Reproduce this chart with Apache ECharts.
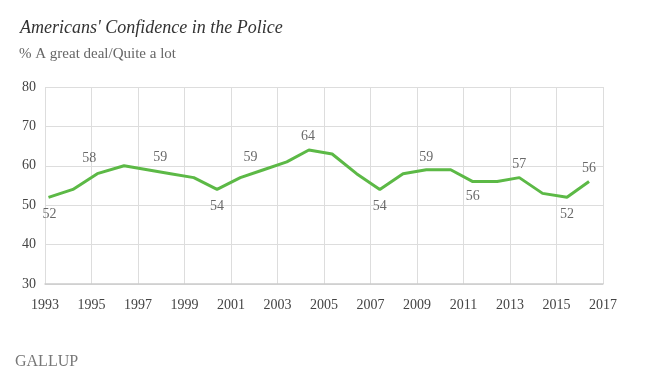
<!DOCTYPE html>
<html><head><meta charset="utf-8">
<script src="https://cdn.jsdelivr.net/npm/echarts@6/dist/echarts.min.js"></script>
<style>html,body{margin:0;padding:0;background:#fff}#c{width:650px;height:381px}</style>
</head><body><div id="c"></div>
<script>
// Estimated poll dates (decimal years) and % values
const pollDates = [1993.15, 1994.2, 1995.25, 1996.4, 1997.4, 1998.4, 1999.4, 2000.4, 2001.4, 2002.4, 2003.4, 2004.35, 2005.35, 2006.4, 2007.4, 2008.4, 2009.4, 2010.45, 2011.4, 2012.45, 2013.4, 2014.4, 2015.45, 2016.4];
const confidence = [52, 54, 58, 60, 59, 58, 57, 54, 57, 59, 61, 64, 63, 58, 54, 58, 59, 59, 56, 56, 57, 53, 52, 56];
// labelled points: index -> label centre offset [dx, dy] from the point
const labelled = {0:[1,17],2:[-8,-15],4:[13,-12],7:[0,17],9:[-13,-12],11:[-1,-14],14:[0,17],16:[0,-12],18:[0,15],20:[0,-13],22:[0,17],23:[0,-13]};
const yTicks = [30, 40, 50, 60, 70, 80];
const xTicks = [1993, 1995, 1997, 1999, 2001, 2003, 2005, 2007, 2009, 2011, 2013, 2015, 2017];

const serif = "'Liberation Serif', 'DejaVu Serif', serif";
const lineData = pollDates.map((d, i) => [d, confidence[i]]);
const labelData = Object.keys(labelled).map(k => {
  const i = +k;
  const [dx, dy] = labelled[i];
  return { value: [pollDates[i], confidence[i]],
    label: { show: true, position: [dx + 0.5, dy + 0.5], align: 'center', verticalAlign: 'middle' } };
});

const chart = echarts.init(document.getElementById('c'), null, {renderer: 'canvas'});
chart.setOption({
  animation: false,
  backgroundColor: '#fff',
  title: [
    { text: "Americans' Confidence in the Police", left: 15, top: 14,
      textStyle: { fontFamily: serif, fontStyle: 'italic', fontWeight: 'normal', fontSize: 18, color: '#333' } },
    { text: '% A great deal/Quite a lot', left: 14, top: 42,
      textStyle: { fontFamily: serif, fontWeight: 'normal', fontSize: 15, color: '#666' } },
    { text: 'GALLUP', left: 10, top: 349,
      textStyle: { fontFamily: serif, fontWeight: 'normal', fontSize: 16, color: '#777' } }
  ],
  grid: { left: 45, right: 47, top: 87, bottom: 97 },
  xAxis: {
    type: 'value', min: 1993, max: 2017, interval: 2,
    axisLine: { show: true, lineStyle: { color: '#ccc', width: 1.5 } },
    axisTick: { show: false },
    splitLine: { show: true, lineStyle: { color: '#ddd' } },
    axisLabel: { fontFamily: serif, fontSize: 14, color: '#444', margin: 14,
      formatter: v => xTicks.includes(v) ? String(v) : '' }
  },
  yAxis: {
    type: 'value', min: 30, max: 80, interval: 10,
    axisLine: { show: false }, axisTick: { show: false },
    splitLine: { show: true, lineStyle: { color: '#ddd' } },
    axisLabel: { fontFamily: serif, fontSize: 14, color: '#444', margin: 9,
      formatter: v => yTicks.includes(v) ? String(v) : '' }
  },
  series: [{
    type: 'line', data: lineData, symbol: 'none', showSymbol: false,
    lineStyle: { color: '#5cb946', width: 3 }
  }, {
    type: 'scatter', data: labelData, symbolSize: 1,
    itemStyle: { color: 'rgba(0,0,0,0)' },
    label: { show: true, fontFamily: serif, fontSize: 14, color: '#444',
      formatter: p => String(p.value[1]) },
    labelLayout: { hideOverlap: false }
  }]
});
</script></body></html>
